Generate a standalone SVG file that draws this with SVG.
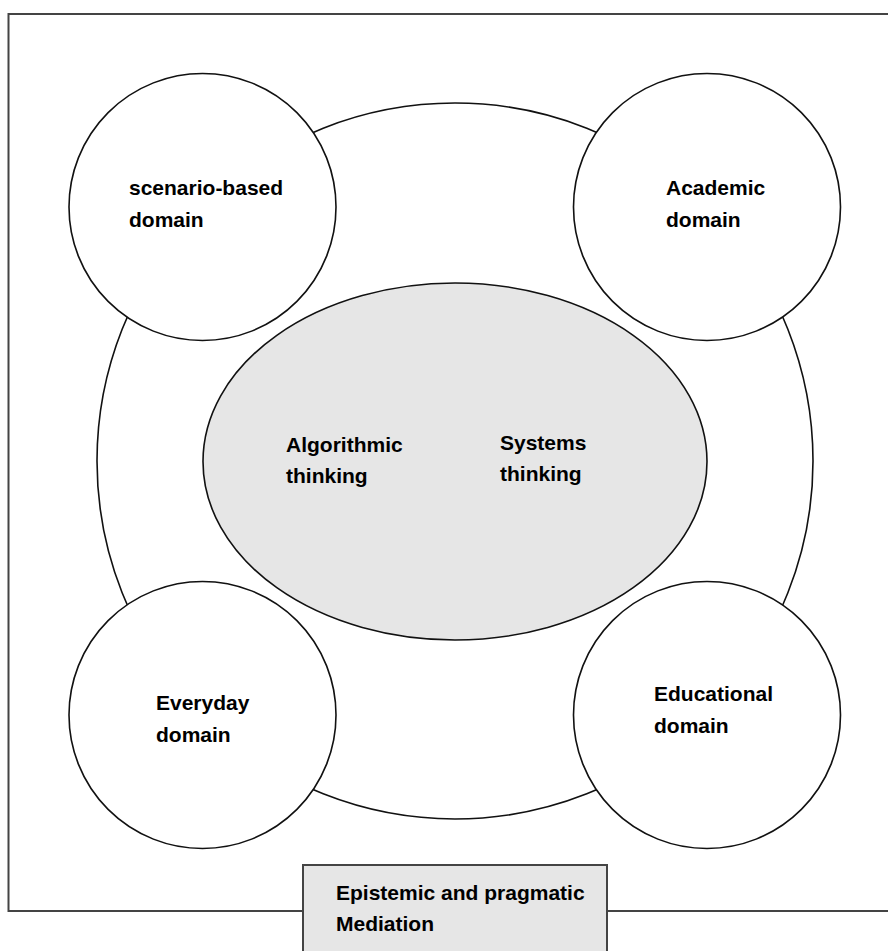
<svg xmlns="http://www.w3.org/2000/svg" width="888" height="951" viewBox="0 0 888 951">
<style>
.frame{fill:#fff;stroke:#444;stroke-width:2}
.ring{fill:#fff;stroke:#111;stroke-width:1.6}
.core{fill:#e6e6e6;stroke:#111;stroke-width:1.6}
.lbl{font-family:"Liberation Sans",Arial,sans-serif;font-weight:bold;font-size:21px;fill:#000}
.box{fill:#e6e6e6;stroke:#444;stroke-width:2}
</style>
<rect width="888" height="951" fill="#fff"/>
<g id="frame"><rect class="frame" x="8.5" y="14" width="890" height="897"/></g>
<g id="outer-circle"><circle class="ring" cx="455" cy="461" r="358"/></g>
<g id="core">
<ellipse class="core" cx="455" cy="461.5" rx="252" ry="178.5"/>
<text class="lbl" x="286" y="452">Algorithmic</text>
<text class="lbl" x="286" y="483">thinking</text>
<text class="lbl" x="500" y="450">Systems</text>
<text class="lbl" x="500" y="481">thinking</text>
</g>
<g id="scenario">
<circle class="ring" cx="202.5" cy="207" r="133.5"/>
<text class="lbl" x="129" y="195">scenario-based</text>
<text class="lbl" x="129" y="227">domain</text>
</g>
<g id="academic">
<circle class="ring" cx="707" cy="207" r="133.5"/>
<text class="lbl" x="666" y="195">Academic</text>
<text class="lbl" x="666" y="227">domain</text>
</g>
<g id="everyday">
<circle class="ring" cx="202.5" cy="715" r="133.5"/>
<text class="lbl" x="156" y="710">Everyday</text>
<text class="lbl" x="156" y="742">domain</text>
</g>
<g id="educational">
<circle class="ring" cx="707" cy="715" r="133.5"/>
<text class="lbl" x="654" y="701">Educational</text>
<text class="lbl" x="654" y="733">domain</text>
</g>
<g id="connectors"></g>
<g id="mediation">
<rect class="box" x="303" y="865" width="304" height="95"/>
<text class="lbl" x="336" y="900">Epistemic and pragmatic</text>
<text class="lbl" x="336" y="931">Mediation</text>
</g>
</svg>
